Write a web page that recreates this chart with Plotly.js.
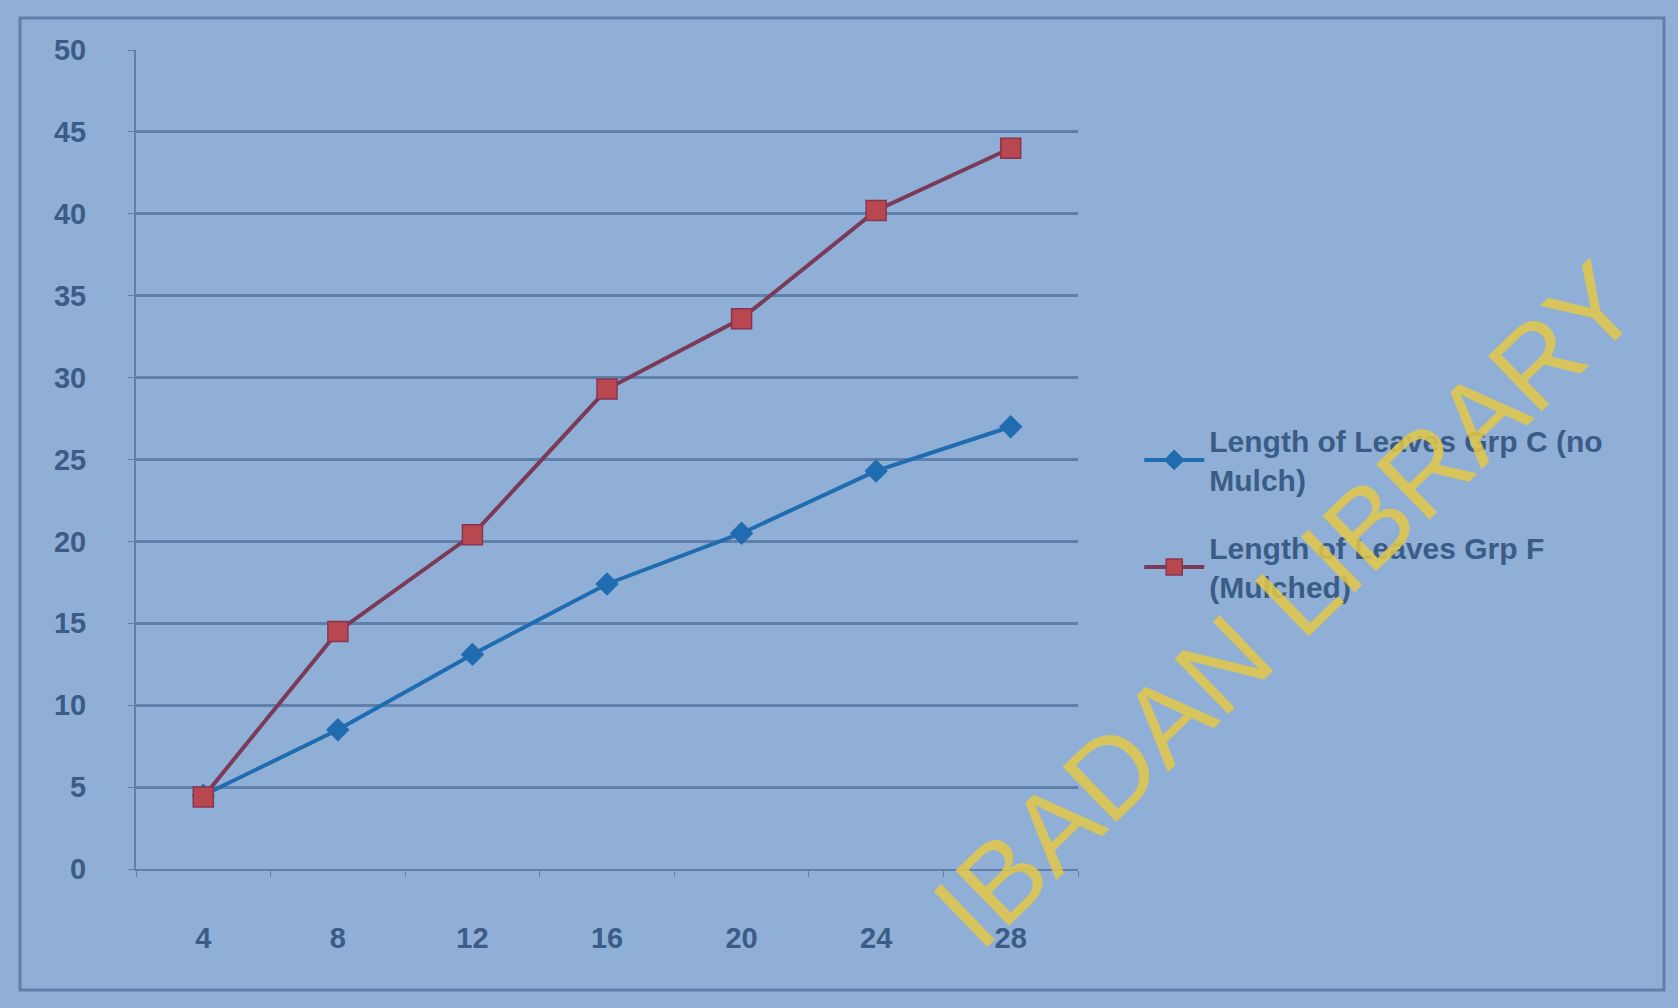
<!DOCTYPE html>
<html>
<head>
<meta charset="utf-8">
<script src="https://cdn.plot.ly/plotly-3.0.1.min.js"></script>
<style>html,body{margin:0;padding:0;background:#8fafd6;}</style>
</head>
<body>
<div id="chart" style="width:1678px;height:1008px;"></div>
<script>
const weeks = ["4", "8", "12", "16", "20", "24", "28"];
const grpC = [4.5, 8.5, 13.1, 17.4, 20.5, 24.3, 27.0];
const grpF = [4.4, 14.5, 20.4, 29.3, 33.6, 40.2, 44.0];
const seriesNames = ["Length of Leaves Grp C (no<br>Mulch)", "Length of Leaves Grp F<br>(Mulched)"];
const yTicks = [0, 5, 10, 15, 20, 25, 30, 35, 40, 45, 50];

const textCol = "#3b5c86";
const gridCol = "#5f80aa";
const fam = "Liberation Sans, Arial, sans-serif";

const traces = [
  {x: weeks, y: grpC, name: seriesNames[0], legendgroup: "c", type: "scatter", mode: "lines+markers",
   line: {color: "#1f6db0", width: 4},
   marker: {symbol: "diamond", size: 18, color: "#1f6db0"}},
  {x: weeks, y: grpF, name: seriesNames[1], legendgroup: "f", type: "scatter", mode: "lines+markers",
   line: {color: "#7a3a58", width: 4},
   marker: {symbol: "square", size: 20, color: "#b8474f", line: {color: "#8a3550", width: 1.5}}}
];

const layout = {
  width: 1678, height: 1008,
  paper_bgcolor: "#8fafd6", plot_bgcolor: "#8fafd6",
  margin: {l: 136, r: 600, t: 50, b: 139},
  font: {family: fam, color: textCol},
  xaxis: {type: "category", showgrid: false, showline: true, linecolor: gridCol, linewidth: 2,
    ticks: "outside", ticklen: 6, tickcolor: gridCol, tickson: "boundaries",
    ticklabelstandoff: 42, tickfont: {size: 29, color: textCol, family: fam, weight: "bold"},
    range: [-0.5, 6.5], zeroline: false},
  yaxis: {range: [0, 50], tickvals: yTicks, showgrid: true, gridcolor: gridCol, gridwidth: 2.5,
    showline: true, linecolor: gridCol, linewidth: 2, ticks: "outside", ticklen: 6, tickcolor: gridCol,
    ticklabelstandoff: 36, tickfont: {size: 29, color: textCol, family: fam, weight: "bold"},
    zeroline: false},
  showlegend: true,
  legend: {x: 1.065, y: 0.555, xanchor: "left", yanchor: "top", bgcolor: "rgba(0,0,0,0)",
    font: {size: 30, color: textCol, family: fam, weight: "bold"},
    itemwidth: 60, tracegroupgap: 26},
  shapes: [
    {type: "rect", xref: "paper", yref: "paper",
     x0: (20 - 136) / 942, x1: (1664 - 136) / 942, y0: (869 - 990) / 819, y1: (869 - 18) / 819,
     line: {color: gridCol, width: 3}, fillcolor: "rgba(0,0,0,0)"}
  ],
  annotations: [
    {text: "IBADAN LIBRARY", xref: "paper", yref: "paper", xanchor: "center", yanchor: "middle",
     x: (1285 - 136) / 942, y: (869 - 605) / 819, showarrow: false, textangle: -44,
     font: {size: 112, color: "rgba(228,200,70,0.85)", family: fam}}
  ]
};

Plotly.newPlot("chart", traces, layout, {displayModeBar: false});
</script>
</body>
</html>
